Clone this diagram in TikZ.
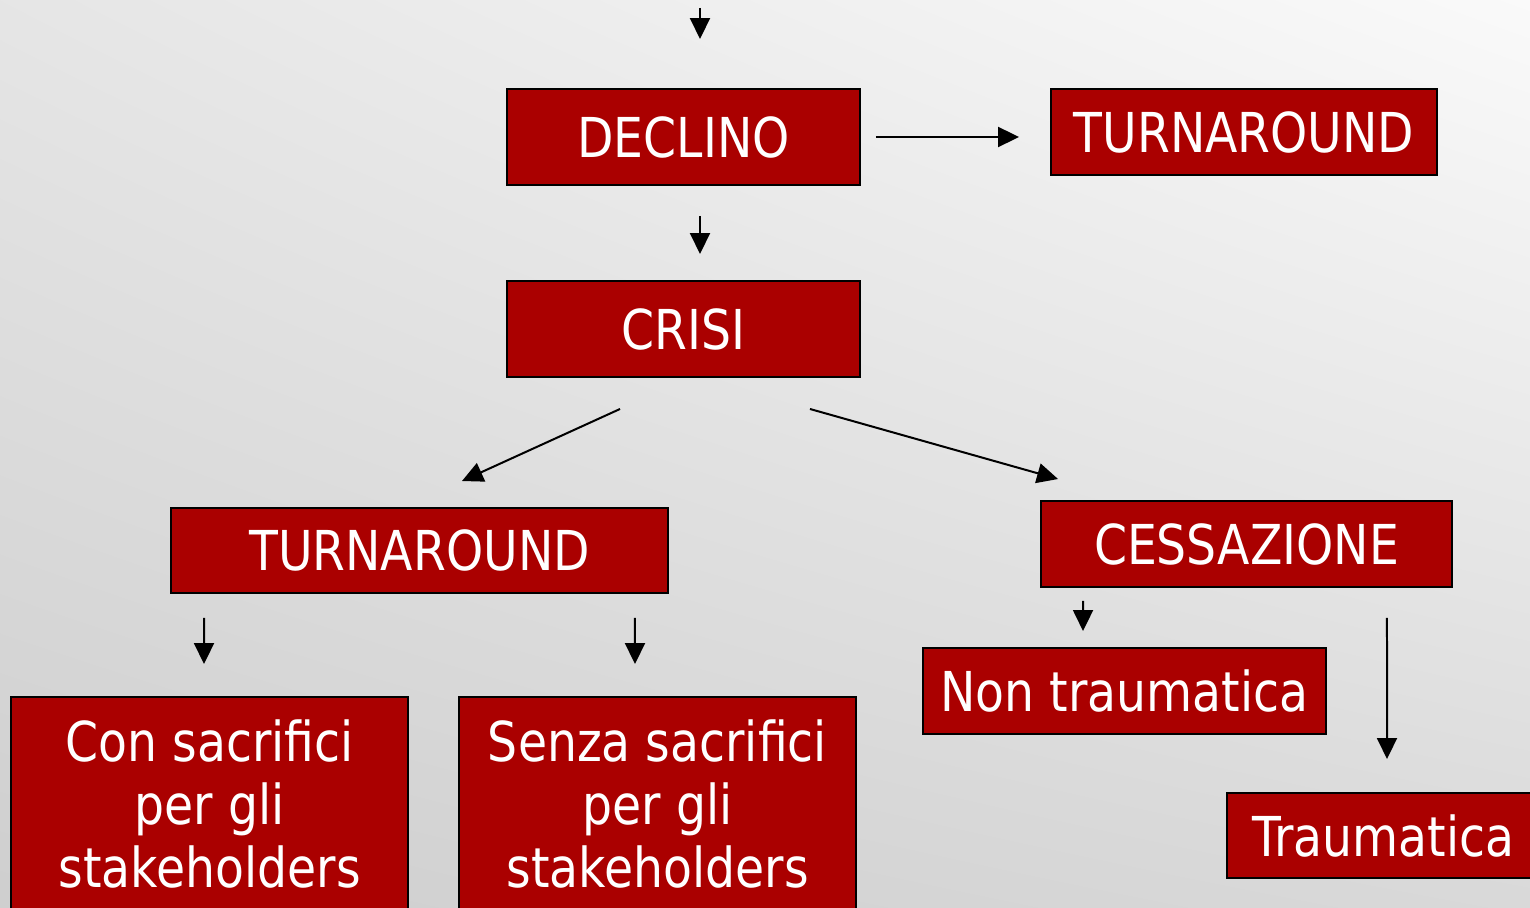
\documentclass[tikz,border=0pt]{standalone}
\usepackage{fontspec}
\setmainfont{DejaVu Sans}[FakeStretch=0.86]
\usetikzlibrary{arrows.meta,shadings}
\definecolor{boxred}{HTML}{AA0000}

\tikzset{
  box/.style={draw=black, line width=0.04cm, fill=boxred, text=white, inner sep=0pt, align=center,
    font=\fontsize{31.3pt}{35.9pt}\selectfont},
  arr/.style={-{Triangle[length=0.42cm,width=0.4cm]}, line width=0.04cm}
}

\begin{document}
\begin{tikzpicture}[x=0.02cm, y=-0.02cm]
    \useasboundingbox (0,0) rectangle (1530,908);
    \clip (0,0) rectangle (1530,908);
    \shade[upper left=black!10, upper right=black!2, lower left=black!19, lower right=black!15] (0,0) rectangle (1530,908);

    % stages
    \node[box, minimum width=7.06cm, minimum height=1.92cm] (declino) at (683.5,137) {DECLINO};
    \node[box, minimum width=7.72cm, minimum height=1.72cm] (turntop) at (1244,132) {TURNAROUND};
    \node[box, minimum width=7.06cm, minimum height=1.92cm] (crisi) at (683.5,329) {CRISI};
    \node[box, minimum width=9.94cm, minimum height=1.70cm] (turnleft) at (419.5,550.5) {TURNAROUND};
    \node[box, minimum width=8.22cm, minimum height=1.72cm] (cessazione) at (1246.5,544) {CESSAZIONE};
    \node[box, minimum width=7.94cm, minimum height=4.28cm] (con) at (209.5,804) {Con sacrifici\\per gli\\stakeholders};
    \node[box, minimum width=7.94cm, minimum height=4.28cm] (senza) at (657.5,804) {Senza sacrifici\\per gli\\stakeholders};
    \node[box, minimum width=8.06cm, minimum height=1.72cm] (nontrauma) at (1124.5,691) {Non traumatica};
    \node[box, minimum width=6.26cm, minimum height=1.70cm] (trauma) at (1383.5,835.5) {Traumatica};

    % arrows
    \coordinate (entry) at (700,8);
    \draw[arr, shorten >=0.98cm] (entry) -- (declino.north -| entry);
    \draw[arr, shorten <=0.3cm, shorten >=0.62cm] (declino.east) -- (declino.east -| turntop.west);
    \draw[arr, shorten <=0.6cm, shorten >=0.52cm] ([xshift=0.33cm]declino.south) -- ([xshift=0.33cm]crisi.north);
    \draw[arr] ([xshift=-1.27cm,yshift=-0.62cm]crisi.south) -- ([xshift=0.85cm,yshift=0.52cm]turnleft.north);
    \draw[arr] ([xshift=2.53cm,yshift=-0.62cm]crisi.south) -- ([xshift=-3.77cm,yshift=0.42cm]cessazione.north);
    \draw[arr] ([xshift=-4.31cm,yshift=-0.48cm]turnleft.south) -- ([xshift=-0.11cm,yshift=0.64cm]con.north);
    \draw[arr] ([xshift=4.31cm,yshift=-0.48cm]turnleft.south) -- ([xshift=-0.45cm,yshift=0.64cm]senza.north);
    \draw[arr] ([xshift=-3.27cm,yshift=-0.26cm]cessazione.south) -- ([xshift=-0.83cm,yshift=0.32cm]nontrauma.north);
    \draw[arr] ([xshift=2.81cm,yshift=-0.6cm]cessazione.south) -- ([xshift=0.07cm,yshift=0.66cm]trauma.north);
\end{tikzpicture}
\end{document}
